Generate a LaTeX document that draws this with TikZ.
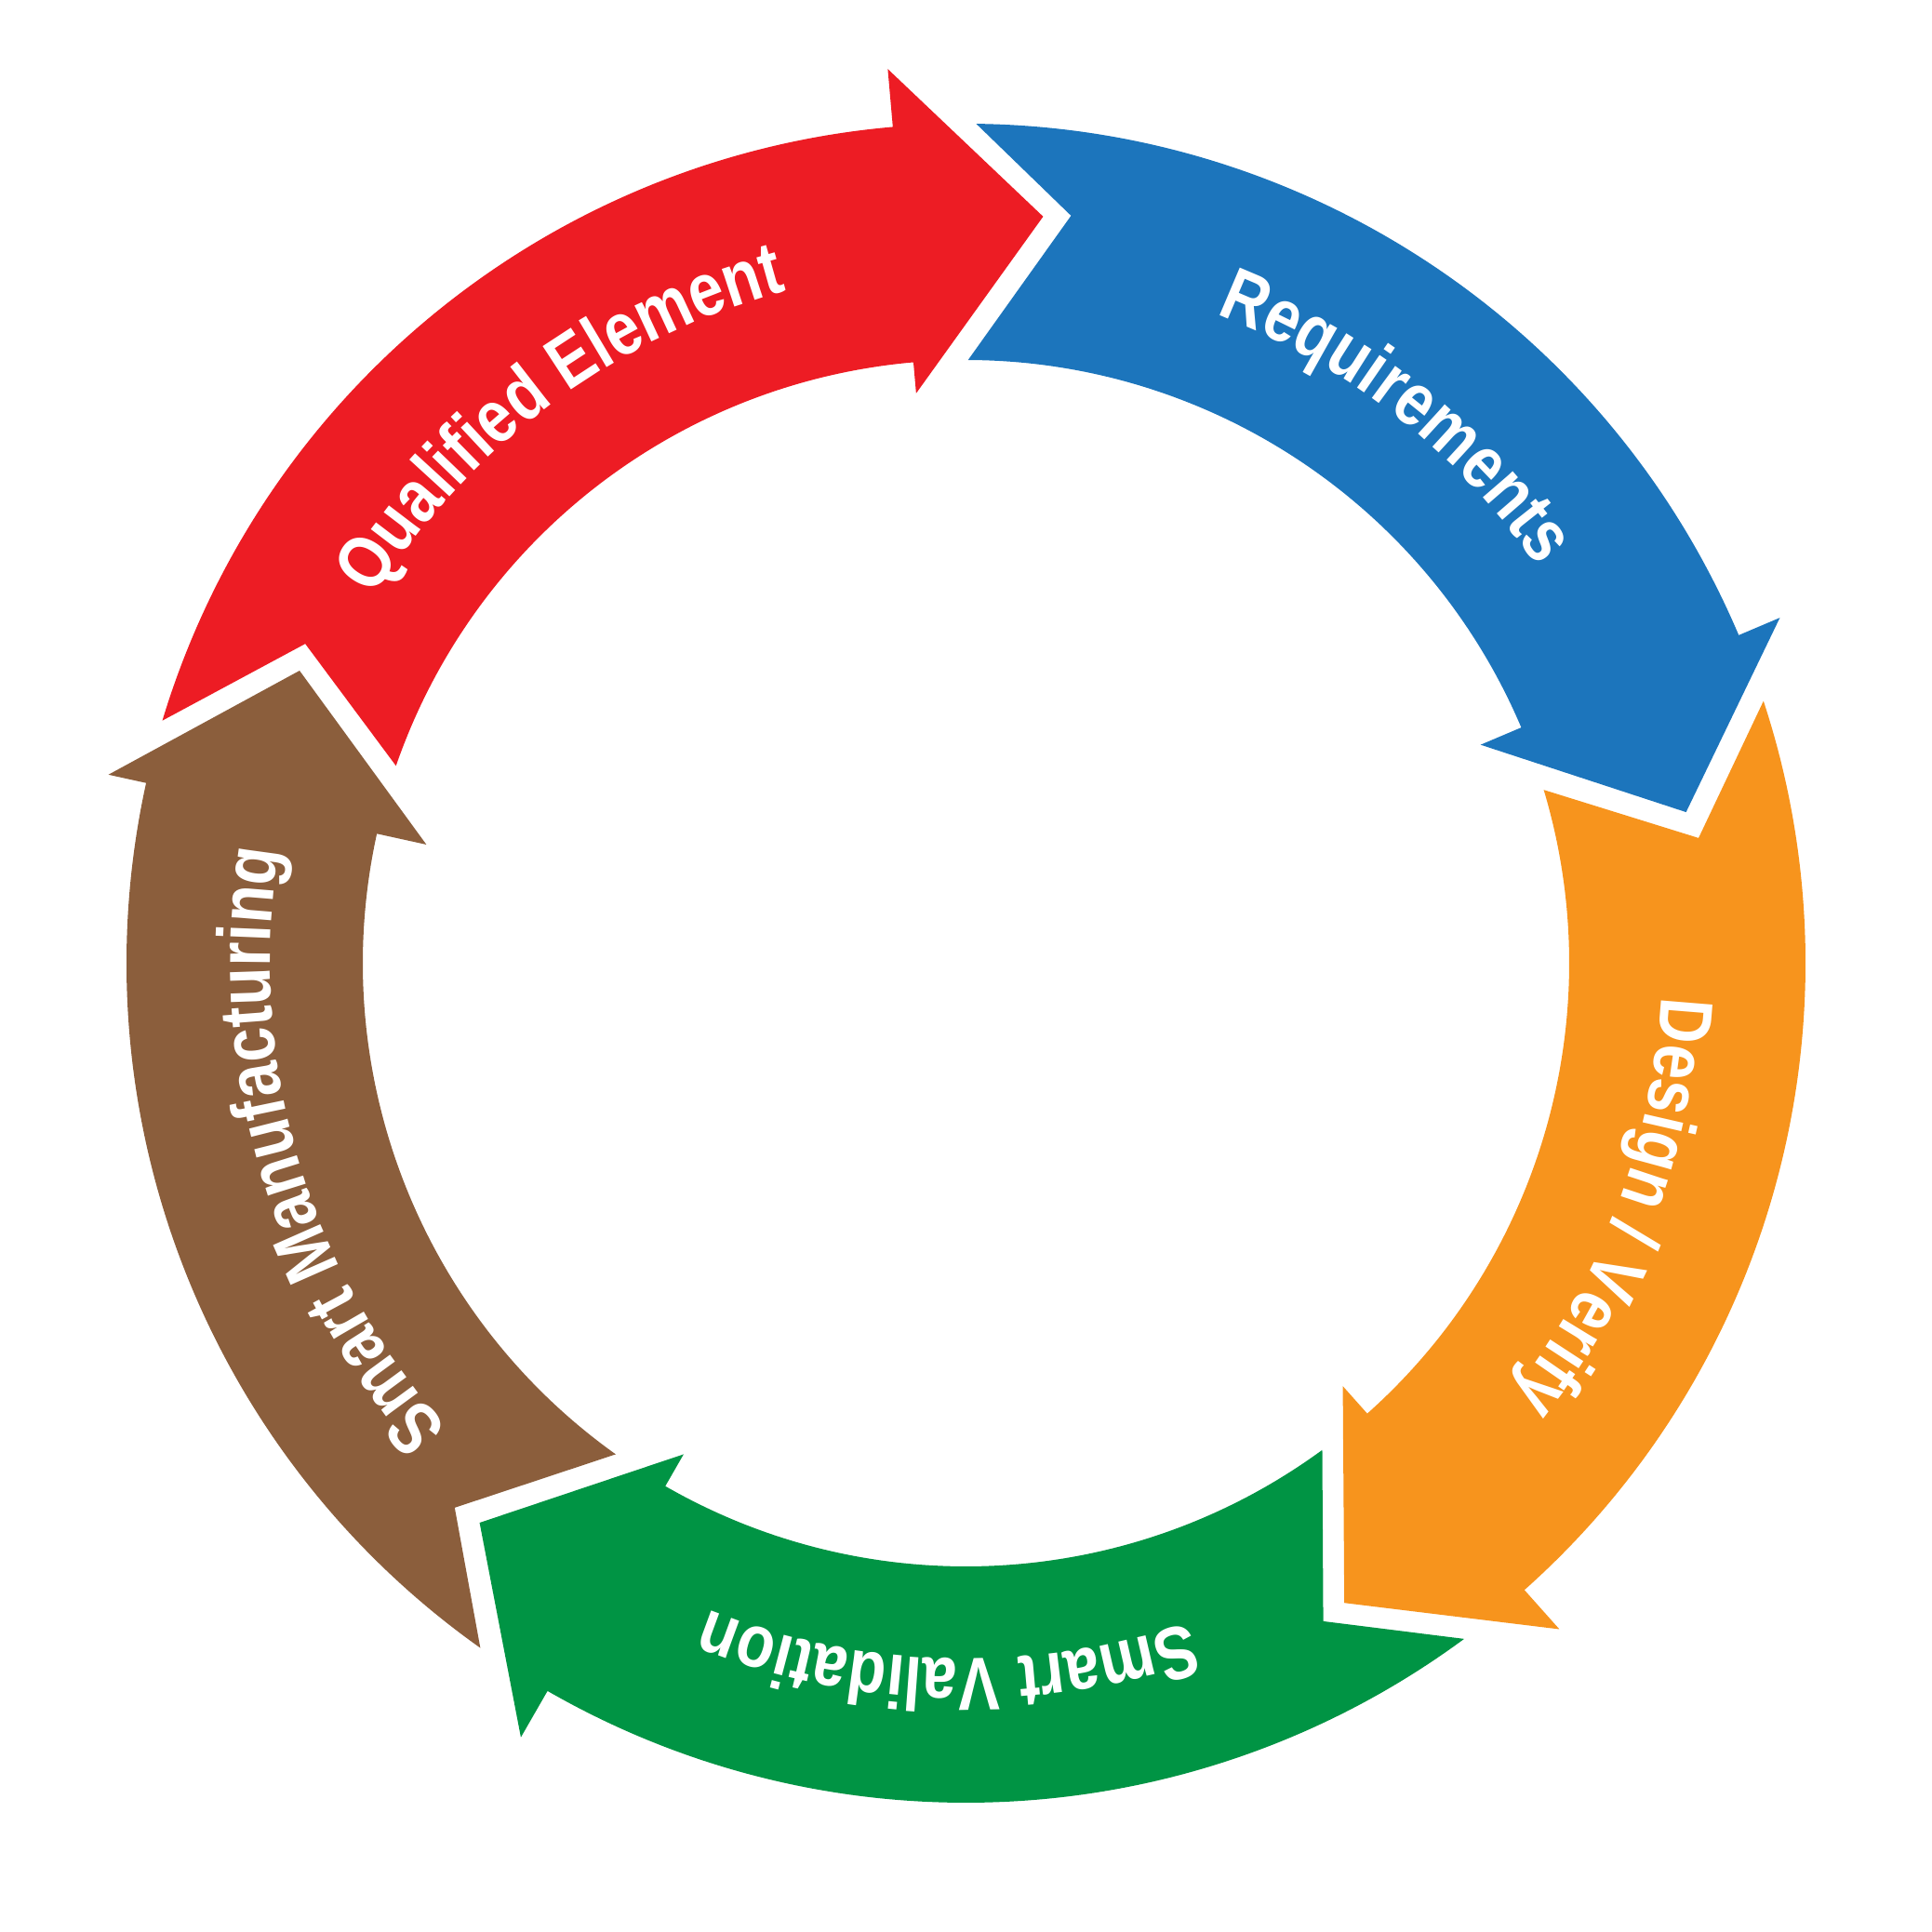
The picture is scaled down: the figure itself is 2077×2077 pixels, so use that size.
\documentclass[tikz,border=0pt]{standalone}
\usepackage{fontspec}
\newfontfamily\ringfont[FakeStretch=0.83]{Liberation Sans Bold}
\usetikzlibrary{decorations.text}
\tikzset{ringtext/.style={decorate, decoration={text along path, text align=center, text color=white,
  text={|\ringfont\fontsize{81}{90}\selectfont|#1}}}}
\begin{document}
\begin{tikzpicture}[x=1bp, y=1bp]
\useasboundingbox[fill=white] (-1038.5,-1041.5) rectangle (1038.5,1035.5);
\definecolor{col}{HTML}{ED1C24}
\fill[col] (163.2:902.5) arc[start angle=163.2, end angle=95.0, radius=902.5] -- (95.0:965) -- (84.1:807) -- (95.0:615) -- (95.0:648.5) arc[start angle=95.0, end angle=160.9, radius=648.5] -- (154.2:789) -- cycle;
\path[ringtext={Qualified Element}] (166.6:748) arc[start angle=166.6, end angle=86.6, radius=748];
\definecolor{col}{HTML}{1C75BC}
\fill[col] (89.3:902.5) arc[start angle=89.3, end angle=23.0, radius=902.5] -- (23.0:950.5) -- (11.85:791) -- (23.0:601) -- (23.0:648.5) arc[start angle=23.0, end angle=89.8, radius=648.5] -- (82.0:811.5) -- cycle;
\path[ringtext={Requirements}] (91.8:748) arc[start angle=91.8, end angle=11.8, radius=748];
\definecolor{col}{HTML}{F7941D}
\fill[col] (18.2:902.5) arc[start angle=18.2, end angle=-48.3, radius=902.5] -- (-48.3:959) -- (-59.4:799) -- (-48.3:609) -- (-48.3:648.5) arc[start angle=-48.3, end angle=16.7, radius=648.5] -- (9.7:799) -- cycle;
\path[ringtext={Design / Verify}] (19.4:748) arc[start angle=19.4, end angle=-60.6, radius=748];
\definecolor{col}{HTML}{009444}
\fill[col] (-53.6:902.5) arc[start angle=-53.6, end angle=-119.9, radius=902.5] -- (-119.9:960) -- (-131.0:797) -- (-119.9:609) -- (-119.9:648.5) arc[start angle=-119.9, end angle=-53.8, radius=648.5] -- (-61.5:805) -- cycle;
\path[ringtext={Smart Validation}] (-51.5:748) arc[start angle=-51.5, end angle=-131.5, radius=748];
\definecolor{col}{HTML}{8B5E3C}
\fill[col] (-125.35:902.5) arc[start angle=-125.35, end angle=-192.4, radius=902.5] -- (-192.4:944) -- (-203.7:782.5) -- (-192.4:594) -- (-192.4:648.5) arc[start angle=-192.4, end angle=-125.5, radius=648.5] -- (-133.2:803) -- cycle;
\path[ringtext={Smart Manufacturing}] (-123.7:748) arc[start angle=-123.7, end angle=-203.7, radius=748];
\end{tikzpicture}
\end{document}
